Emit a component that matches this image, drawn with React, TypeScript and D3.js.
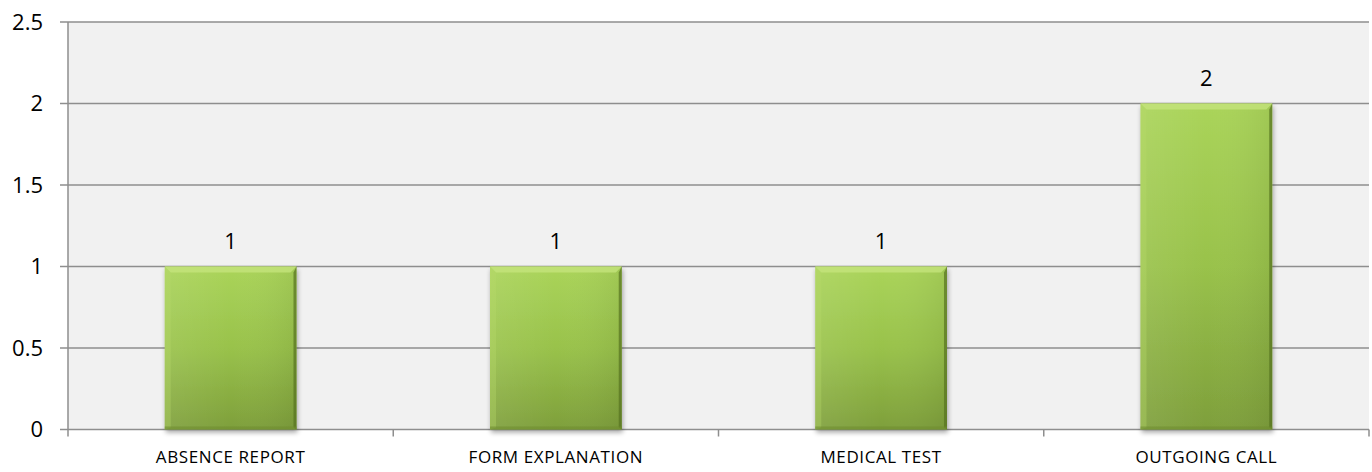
import React from "react";
import * as d3 from "d3";

const categories = ["ABSENCE REPORT", "FORM EXPLANATION", "MEDICAL TEST", "OUTGOING CALL"];
const values = [1, 1, 1, 2];
const yTicks = [0, 0.5, 1, 1.5, 2, 2.5];

const W = 1372;
const H = 472;
const M = { left: 68, right: 3, top: 22, bottom: 42.5 };
const FONT = "'Open Sans', 'Liberation Sans', sans-serif";

export default function App() {
  const x = d3
    .scaleBand<string>()
    .domain(categories)
    .range([M.left, W - M.right])
    .paddingInner(0.595)
    .paddingOuter(0.2975);
  const y = d3.scaleLinear().domain([0, 2.5]).range([H - M.bottom, M.top]);
  const band = (W - M.right - M.left) / categories.length;
  const bw = x.bandwidth();
  const y0 = y(0);
  const bev = 6;

  return (
    <svg
      width={W}
      height={H}
      style={{ position: "absolute", left: 0, top: 0, background: "#fff" }}
      fontFamily={FONT}
    >
      <defs>
        <linearGradient id="barGrad" x1="0" y1="0" x2="0" y2="1">
          <stop offset="0" stopColor="#aad45a" />
          <stop offset="0.5" stopColor="#99c24b" />
          <stop offset="1" stopColor="#7e9f3b" />
        </linearGradient>
        <linearGradient id="barSide" x1="0" y1="0" x2="1" y2="0">
          <stop offset="0" stopColor="#ffffff" stopOpacity="0.08" />
          <stop offset="0.5" stopColor="#ffffff" stopOpacity="0" />
          <stop offset="1" stopColor="#000000" stopOpacity="0.06" />
        </linearGradient>
        <filter id="shadow" x="-10%" y="-10%" width="120%" height="130%">
          <feGaussianBlur in="SourceAlpha" stdDeviation="2.5" />
          <feOffset dx="1" dy="3" result="b" />
          <feComponentTransfer>
            <feFuncA type="linear" slope="0.35" />
          </feComponentTransfer>
          <feMerge>
            <feMergeNode />
            <feMergeNode in="SourceGraphic" />
          </feMerge>
        </filter>
      </defs>

      <rect
        x={M.left}
        y={M.top}
        width={W - M.right - M.left}
        height={y0 - M.top}
        fill="#f1f1f1"
      />

      {yTicks.map((t) => (
        <g key={t}>
          <line
            x1={M.left - 8}
            x2={W - M.right}
            y1={y(t)}
            y2={y(t)}
            stroke="#8e8e8e"
            strokeWidth={1.5}
          />
          <text
            x={M.left - 25}
            y={y(t)}
            dy="0.36em"
            textAnchor="end"
            fontSize={22}
            fill="#000"
          >
            {t}
          </text>
        </g>
      ))}

      <line x1={M.left} x2={M.left} y1={M.top} y2={y0 + 7} stroke="#8e8e8e" strokeWidth={1.5} />
      {categories.map((c, i) => (
        <line
          key={"t" + c}
          x1={M.left + band * (i + 1)}
          x2={M.left + band * (i + 1)}
          y1={y0}
          y2={y0 + 7}
          stroke="#8e8e8e"
          strokeWidth={1.5}
        />
      ))}

      {categories.map((c, i) => {
        const bx = x(c)!;
        const by = y(values[i]);
        const bh = y0 - by;
        return (
          <g key={c}>
            <g filter="url(#shadow)">
              <rect x={bx} y={by} width={bw} height={bh} fill="url(#barGrad)" />
            </g>
            <rect x={bx} y={by} width={bw} height={bh} fill="url(#barSide)" />
            <polygon
              points={`${bx},${by} ${bx + bw},${by} ${bx + bw - bev},${by + bev} ${bx + bev},${by + bev}`}
              fill="#c4e47c"
              opacity={0.8}
            />
            <polygon
              points={`${bx},${by} ${bx + bev},${by + bev} ${bx + bev},${by + bh - 2} ${bx},${by + bh}`}
              fill="#b6d96a"
              opacity={0.35}
            />
            <polygon
              points={`${bx + bw},${by} ${bx + bw},${by + bh} ${bx + bw - 3},${by + bh - 2} ${bx + bw - 3},${by + bev}`}
              fill="#56721f"
              opacity={0.7}
            />
            <rect x={bx} y={y0 - 3} width={bw} height={3} fill="#6f8e30" opacity={0.6} />
            <text
              x={bx + bw / 2}
              y={by - 18}
              textAnchor="middle"
              fontSize={22}
              fill="#000"
            >
              {values[i]}
            </text>
            <text
              x={bx + bw / 2}
              y={y0 + 33}
              textAnchor="middle"
              fontSize={17}
              letterSpacing={0.6}
              fill="#000"
            >
              {c}
            </text>
          </g>
        );
      })}
    </svg>
  );
}
